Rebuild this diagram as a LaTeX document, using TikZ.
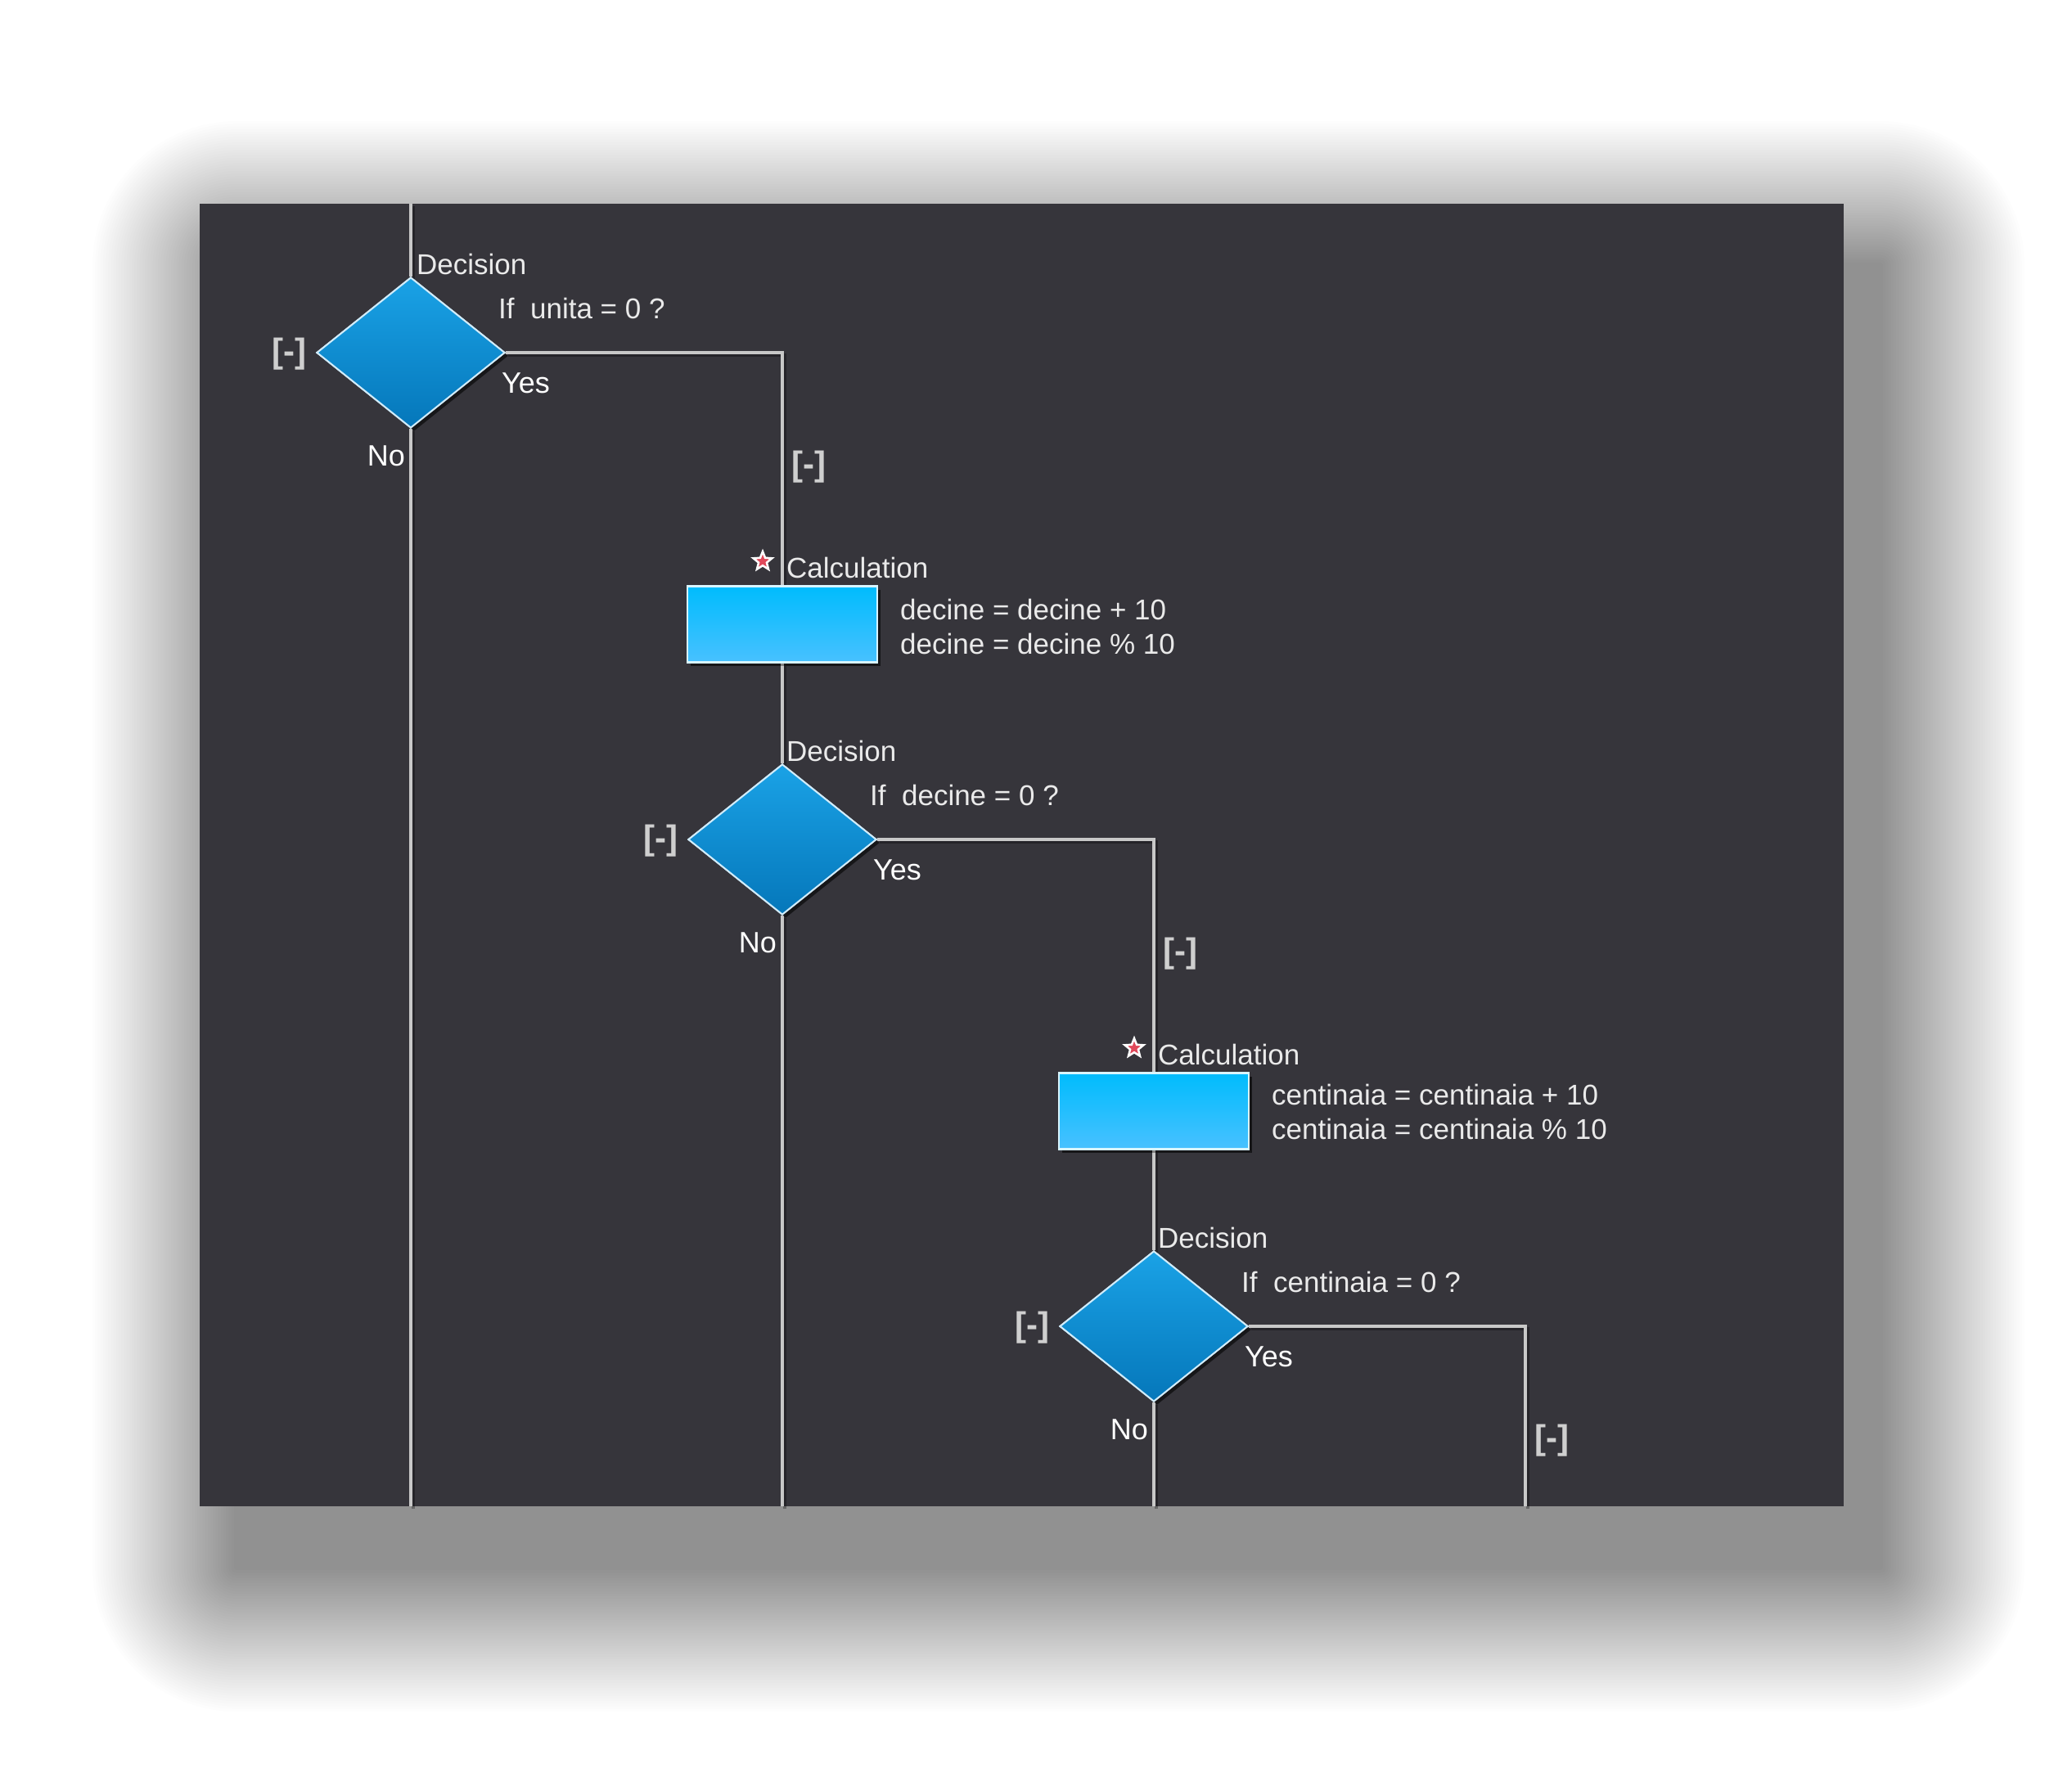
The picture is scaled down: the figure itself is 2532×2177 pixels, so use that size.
\documentclass[tikz,border=0pt]{standalone}
\usepackage{fontspec}
\setmainfont{Liberation Sans}
\usetikzlibrary{shapes.geometric,shadows}
\definecolor{panelc}{HTML}{36353B}
\definecolor{linec}{HTML}{C8C8C8}
\definecolor{txtc}{HTML}{EAEAEA}
\definecolor{brc}{HTML}{CFCFCF}
\definecolor{dtop}{HTML}{1AA2E6}
\definecolor{dbot}{HTML}{0577BA}
\definecolor{btop}{HTML}{00BCFD}
\definecolor{bbot}{HTML}{48C1FF}
\definecolor{starc}{HTML}{E0485A}
\tikzset{
  decision/.style={diamond, minimum width=230pt, minimum height=184pt, inner sep=0pt,
    top color=dtop, bottom color=dbot, draw=white!80!dtop, line width=2pt,
    drop shadow={shadow xshift=4pt, shadow yshift=-4pt, opacity=0.35, fill=black}},
  calcbox/.style={rectangle, minimum width=232pt, minimum height=93pt, inner sep=0pt,
    top color=btop, bottom color=bbot, draw=white!85!btop, line width=2.5pt,
    drop shadow={shadow xshift=4pt, shadow yshift=-4pt, opacity=0.35, fill=black}},
  conn/.style={draw=linec, line width=3.5pt,
    preaction={draw=black, opacity=0.3, line width=3.5pt, transform canvas={xshift=3pt, yshift=-3pt}}},
  lbl/.style={text=txtc, font=\fontsize{35}{42}\selectfont, inner sep=0pt},
  yn/.style={text=white, font=\fontsize{36}{42}\selectfont, inner sep=0pt},
  coll/.style={text=brc, font=\fontsize{42}{42}\selectfont\bfseries, inner sep=0pt},
  starmark/.style={star, star points=5, star point ratio=2.3, minimum size=24pt, inner sep=0pt,
    fill=starc, draw=white, line width=2.5pt}
}
\begin{document}
\begin{tikzpicture}[x=1pt, y=-1pt]
\useasboundingbox (0,0) rectangle (2532,2177);
\fill[white] (0,0) rectangle (2532,2177);
% soft shadow of the panel
\foreach \i in {1,...,55}{
  \fill[black, opacity=0.0095, rounded corners={\i*3.2pt}]
    ({244+45-\i*3.2},{249+75-\i*3.2}) rectangle ({2253+45+\i*3.2},{1841+75+\i*3.2});
}
\fill[panelc] (244,249) rectangle (2253,1841);

% nodes
\node[decision] (d1) at (502,431) {};
\node[calcbox]  (b1) at (956,763) {};
\node[decision] (d2) at (956,1026) {};
\node[calcbox]  (b2) at (1410,1358) {};
\node[decision] (d3) at (1410,1621) {};

\coordinate (top0) at (502,249);
\coordinate (bot0) at (502,1841);
\coordinate (bot1) at (956,1841);
\coordinate (bot2) at (1410,1841);
\coordinate (bot3) at (1864,1841);

% connectors
\draw[conn] (top0) -- (d1.north);
\draw[conn] (d1.south) -- (bot0);
\draw[conn] (d1.east) -| (b1.north);
\draw[conn] (b1.south) -- (d2.north);
\draw[conn] (d2.south) -- (bot1);
\draw[conn] (d2.east) -| (b2.north);
\draw[conn] (b2.south) -- (d3.north);
\draw[conn] (d3.south) -- (bot2);
\draw[conn] (d3.east) -| (bot3);

% redraw nodes on top of connectors
\node[decision] at (d1) {};
\node[calcbox]  at (b1) {};
\node[decision] at (d2) {};
\node[calcbox]  at (b2) {};
\node[decision] at (d3) {};

% decision 1 labels
\node[lbl, anchor=base west] (d1t) at (509,335) {Decision};
\node[lbl, anchor=base west] (d1q) at (609,389) {If~ unita = 0 ?};
\node[yn, anchor=base west] (d1y) at (613,480) {Yes};
\node[yn, anchor=base east] (d1n) at (495,569) {No};
\node[coll, anchor=east] (d1c) at (375,433) {[-]};
\node[coll, anchor=west] (d1b) at (967,571) {[-]};

% calculation 1
\node[starmark] (s1) at (932,686) {};
\node[lbl, anchor=base west] (b1t) at (961,706) {Calculation};
\node[lbl, anchor=base west] (b1a) at (1100,757) {decine = decine + 10};
\node[lbl, anchor=base west] (b1b) at (1100,799) {decine = decine \% 10};

% decision 2 labels
\node[lbl, anchor=base west] (d2t) at (961,930) {Decision};
\node[lbl, anchor=base west] (d2q) at (1063,984) {If~ decine = 0 ?};
\node[yn, anchor=base west] (d2y) at (1067,1075) {Yes};
\node[yn, anchor=base east] (d2n) at (949,1164) {No};
\node[coll, anchor=east] (d2c) at (829,1028) {[-]};
\node[coll, anchor=west] (d2b) at (1421,1166) {[-]};

% calculation 2
\node[starmark] (s2) at (1386,1281) {};
\node[lbl, anchor=base west] (b2t) at (1415,1301) {Calculation};
\node[lbl, anchor=base west] (b2a) at (1554,1350) {centinaia = centinaia + 10};
\node[lbl, anchor=base west] (b2b) at (1554,1392) {centinaia = centinaia \% 10};

% decision 3 labels
\node[lbl, anchor=base west] (d3t) at (1415,1525) {Decision};
\node[lbl, anchor=base west] (d3q) at (1517,1579) {If~ centinaia = 0 ?};
\node[yn, anchor=base west] (d3y) at (1521,1670) {Yes};
\node[yn, anchor=base east] (d3n) at (1403,1759) {No};
\node[coll, anchor=east] (d3c) at (1283,1623) {[-]};
\node[coll, anchor=west] (d3b) at (1875,1761) {[-]};
\end{tikzpicture}
\end{document}
